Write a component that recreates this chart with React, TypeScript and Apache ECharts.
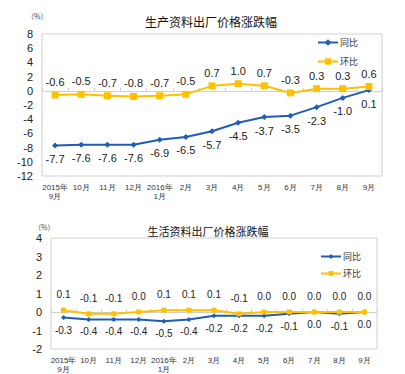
import React, { useEffect, useRef } from "react";
import * as echarts from "echarts";

const categories = ["2015年\n9月", "10月", "11月", "12月", "2016年\n1月", "2月", "3月", "4月", "5月", "6月", "7月", "8月", "9月"];
const prodYoY = [-7.7, -7.6, -7.6, -7.6, -6.9, -6.5, -5.7, -4.5, -3.7, -3.5, -2.3, -1.0, 0.1];
const prodMoM = [-0.6, -0.5, -0.7, -0.8, -0.7, -0.5, 0.7, 1.0, 0.7, -0.3, 0.3, 0.3, 0.6];
const consYoY = [-0.3, -0.4, -0.4, -0.4, -0.5, -0.4, -0.2, -0.2, -0.2, -0.1, 0.0, -0.1, 0.0];
const consMoM = [0.1, -0.1, -0.1, 0.0, 0.1, 0.1, 0.1, -0.1, 0.0, 0.0, 0.0, 0.0, 0.0];
const seriesNames = ["同比", "环比"];
const titles = ["生产资料出厂价格涨跌幅", "生活资料出厂价格涨跌幅"];

const BLUE = "#1f5cb8";
const YELLOW = "#ffc000";
const FONT = "Liberation Sans, Arial, sans-serif";

export default function App() {
  const ref = useRef<HTMLDivElement>(null);
  useEffect(() => {
    if (!ref.current) return;
    const chart = echarts.init(ref.current, null, { renderer: "svg" });
    const xAxisBase = (gi: number, fs: number) => ({
      type: "category",
      gridIndex: gi,
      data: categories,
      boundaryGap: true,
      axisLine: { show: true, lineStyle: { color: "#d0d0d0" } },
      axisTick: { show: true, inside: true, length: 3, lineStyle: { color: "#d0d0d0" } },
      axisLabel: { color: "#333", fontSize: fs, fontFamily: FONT, lineHeight: 9, margin: 7, interval: 0 },
    });
    const fmt = (p: any) => Number(p.value).toFixed(1);
    const lbl = (pos: string, dist: number, fs: number) => ({
      show: true,
      position: pos,
      distance: dist,
      formatter: fmt,
      fontSize: fs,
      fontFamily: FONT,
      color: "#222",
    });
    chart.setOption({
      animation: false,
      backgroundColor: "#fff",
      title: [
        { text: titles[0], left: 206, top: 10, textAlign: "center", textStyle: { fontSize: 12, fontWeight: "normal", color: "#111", fontFamily: "Noto Sans CJK SC" } },
        { text: titles[1], left: 203, top: 220, textAlign: "center", textStyle: { fontSize: 11, fontWeight: "normal", color: "#111", fontFamily: "Noto Sans CJK SC" } },
      ],
      graphic: [
        { type: "text", left: 27, top: 12, style: { text: "（%）", fontSize: 7, fill: "#444", fontFamily: "Noto Sans CJK SC" } },
        { type: "text", left: 34, top: 223, style: { text: "（%）", fontSize: 7, fill: "#444", fontFamily: "Noto Sans CJK SC" } },
      ],
      legend: [
        {
          orient: "vertical", left: 312, top: 33, itemWidth: 20, itemHeight: 8, itemGap: 10,
          textStyle: { fontSize: 9, color: "#333", fontFamily: "Noto Sans CJK SC", padding: [0, 0, 0, -3] },
          data: [{ name: seriesNames[0] }, { name: seriesNames[1] }],
          selectedMode: false,
        },
        {
          orient: "vertical", left: 315, top: 247, itemWidth: 20, itemHeight: 6, itemGap: 8,
          textStyle: { fontSize: 9, color: "#333", fontFamily: "Noto Sans CJK SC", padding: [0, 0, 0, -3] },
          data: [{ name: seriesNames[0] + " " }, { name: seriesNames[1] + " " }],
          selectedMode: false,
        },
      ],
      grid: [
        { left: 42, top: 34, width: 340, height: 142, show: true, borderColor: "#d0d0d0", borderWidth: 1, backgroundColor: "transparent" },
        { left: 51, top: 238, width: 326, height: 114, show: true, borderColor: "#d0d0d0", borderWidth: 1, backgroundColor: "transparent" },
      ],
      xAxis: [xAxisBase(0, 8), xAxisBase(1, 8)],
      yAxis: [
        {
          type: "value", gridIndex: 0, min: -12, max: 8, interval: 2,
          axisLine: { show: false }, axisTick: { show: false }, splitLine: { show: false },
          axisLabel: { color: "#222", fontSize: 11, fontFamily: FONT, margin: 9 },
        },
        {
          type: "value", gridIndex: 1, min: -2, max: 4, interval: 1,
          axisLine: { show: false }, axisTick: { show: false }, splitLine: { show: false },
          axisLabel: { color: "#222", fontSize: 11, fontFamily: FONT, margin: 9 },
        },
      ],
      series: [
        {
          name: seriesNames[0], type: "line", xAxisIndex: 0, yAxisIndex: 0, data: prodYoY,
          symbol: "diamond", symbolSize: 6, itemStyle: { color: BLUE }, lineStyle: { color: BLUE, width: 2 },
          label: lbl("bottom", 5, 11),
        },
        {
          name: seriesNames[1], type: "line", xAxisIndex: 0, yAxisIndex: 0, data: prodMoM,
          symbol: "rect", symbolSize: 7, itemStyle: { color: YELLOW }, lineStyle: { color: YELLOW, width: 2 },
          label: lbl("top", 4, 11),
        },
        {
          name: seriesNames[0] + " ", type: "line", xAxisIndex: 1, yAxisIndex: 1, data: consYoY,
          symbol: "diamond", symbolSize: 5, itemStyle: { color: BLUE }, lineStyle: { color: BLUE, width: 2 },
          label: lbl("bottom", 5, 10),
        },
        {
          name: seriesNames[1] + " ", type: "line", xAxisIndex: 1, yAxisIndex: 1, data: consMoM,
          symbol: "rect", symbolSize: 5, itemStyle: { color: YELLOW }, lineStyle: { color: YELLOW, width: 2 },
          label: lbl("top", 8, 10),
        },
      ],
    });
    return () => chart.dispose();
  }, []);
  return <div ref={ref} style={{ position: "fixed", left: 0, top: 0, width: 405, height: 374 }} />;
}
